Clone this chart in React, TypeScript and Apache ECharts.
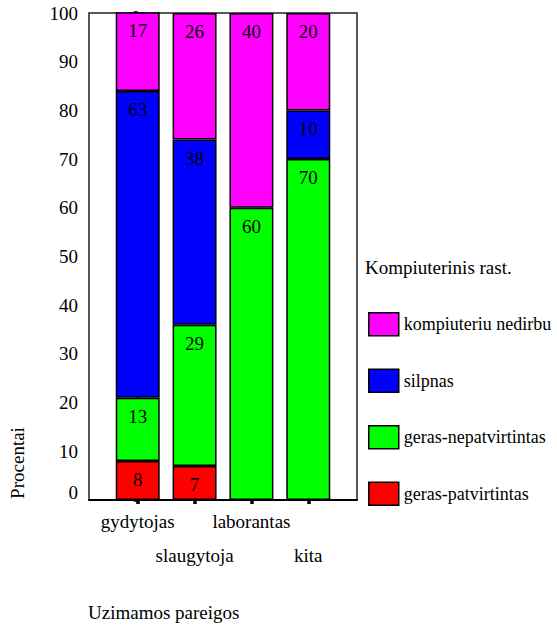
import { useEffect, useRef } from "react";
import * as echarts from "echarts";

// Job categories along the x axis
const categories = ["gydytojas", "slaugytoja", "laborantas", "kita"];

// Percentage of each computer-skill level per category (null = none)
const gerasPatvirtintas = [8, 7, null, null];
const gerasNepatvirtintas = [13, 29, 60, 70];
const silpnas = [63, 38, null, 10];
const kompiuteriuNedirbu = [17, 26, 40, 20];

const yTickValues = [0, 10, 20, 30, 40, 50, 60, 70, 80, 90, 100];
const categoryPositions = categories.map((_, i) => i);
// category names alternate between an upper and a lower row
const upperRow = categoryPositions.filter((i) => i % 2 === 0);
const lowerRow = categoryPositions.filter((i) => i % 2 === 1);

const FONT = "Liberation Serif";
const FS = 19;

const seriesDefs = [
  { name: "geras-patvirtintas", values: gerasPatvirtintas, color: "#FF0000" },
  { name: "geras-nepatvirtintas", values: gerasNepatvirtintas, color: "#00FF00" },
  { name: "silpnas", values: silpnas, color: "#0000FF" },
  { name: "kompiuteriu nedirbu", values: kompiuteriuNedirbu, color: "#FF00FF" },
];

const legendOrder = [
  "kompiuteriu nedirbu",
  "silpnas",
  "geras-nepatvirtintas",
  "geras-patvirtintas",
];

const X_MIN = -0.857;
const X_MAX = 3.857;

export default function App() {
  const ref = useRef<HTMLDivElement>(null);

  useEffect(() => {
    if (!ref.current) return;
    const chart = echarts.init(ref.current, null, { renderer: "svg" });

    const axisLineStyle = { color: "#000", width: 2 };
    const tickStyle = { color: "#000", width: 3.5 };
    const labelText = { fontSize: FS, color: "#000", fontFamily: FONT, lineHeight: 22 };
    const nameOf = (v: number) => categories[Math.round(v)] ?? "";

    chart.setOption({
      animation: false,
      textStyle: { fontFamily: FONT },
      grid: {
        left: 89,
        top: 13,
        width: 268,
        height: 487,
        show: true,
        borderColor: "#222",
        borderWidth: 1.5,
        backgroundColor: "transparent",
      },
      xAxis: [
        {
          type: "value",
          min: X_MIN,
          max: X_MAX,
          position: "bottom",
          splitLine: { show: false },
          axisLine: { show: true, onZero: false, lineStyle: axisLineStyle },
          axisTick: {
            show: true,
            customValues: categoryPositions,
            length: 4,
            lineStyle: tickStyle,
          },
          axisLabel: {
            customValues: upperRow,
            showMinLabel: true,
            showMaxLabel: true,
            formatter: nameOf,
            margin: 10,
            ...labelText,
          },
        },
        {
          type: "value",
          min: X_MIN,
          max: X_MAX,
          position: "bottom",
          offset: 0,
          splitLine: { show: false },
          axisLine: { show: false },
          axisTick: { show: false },
          axisLabel: {
            customValues: lowerRow,
            showMinLabel: true,
            showMaxLabel: true,
            formatter: nameOf,
            margin: 44,
            ...labelText,
          },
        },
      ],
      yAxis: {
        type: "value",
        min: yTickValues[0],
        max: yTickValues[yTickValues.length - 1],
        interval: 10,
        splitLine: { show: false },
        axisLine: { show: true, lineStyle: axisLineStyle },
        axisTick: { show: true, length: 4, lineStyle: tickStyle },
        axisLabel: {
          margin: 11,
          fontSize: FS,
          color: "#000",
          fontFamily: FONT,
          showMinLabel: true,
          showMaxLabel: true,
          formatter: (v: number) => (v === 0 ? "{z|0}" : String(v)),
          rich: {
            z: { fontSize: FS, fontFamily: FONT, color: "#000", padding: [0, 0, 16, 0] },
          },
        },
      },
      legend: {
        data: legendOrder,
        orient: "vertical",
        left: 368,
        top: 312,
        padding: 0,
        itemWidth: 30,
        itemHeight: 23,
        itemGap: 32,
        icon: "rect",
        itemStyle: { borderColor: "#000", borderWidth: 1.5 },
        textStyle: { fontSize: 18, color: "#000", fontFamily: FONT },
      },
      graphic: [
        {
          type: "text",
          x: 365,
          y: 267,
          style: {
            text: "Kompiuterinis rast.",
            fontSize: FS,
            fontFamily: FONT,
            fill: "#000",
            align: "left",
            verticalAlign: "middle",
          },
        },
        {
          type: "text",
          x: 88,
          y: 612,
          style: {
            text: "Uzimamos pareigos",
            fontSize: FS,
            fontFamily: FONT,
            fill: "#000",
            align: "left",
            verticalAlign: "middle",
          },
        },
        {
          type: "text",
          x: 17,
          y: 463,
          rotation: Math.PI / 2,
          style: {
            text: "Procentai",
            fontSize: FS,
            fontFamily: FONT,
            fill: "#000",
            align: "center",
            verticalAlign: "middle",
          },
        },
      ],
      series: seriesDefs.map((s) => ({
        name: s.name,
        type: "bar",
        stack: "total",
        xAxisIndex: 0,
        barWidth: 44,
        // value first so the stack is computed on the y dimension
        encode: { x: 1, y: 0 },
        data: s.values.map((v, i) => [v == null ? "-" : v, i]),
        itemStyle: { color: s.color, borderColor: "#000", borderWidth: 1.5 },
        label: {
          show: true,
          position: "insideTop",
          distance: 9,
          fontSize: FS,
          color: "#000",
          fontFamily: FONT,
          formatter: (p: any) => String(p.value[0]),
        },
      })),
    });

    return () => chart.dispose();
  }, []);

  return (
    <div
      ref={ref}
      style={{ position: "absolute", left: 0, top: 0, width: 557, height: 628 }}
    />
  );
}
